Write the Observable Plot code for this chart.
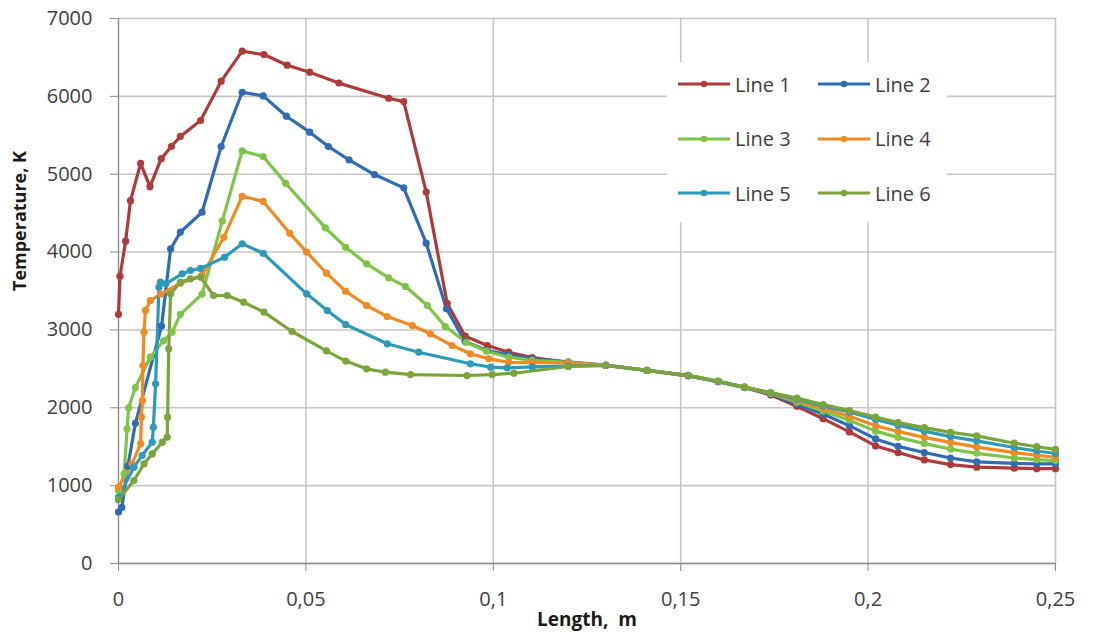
<!DOCTYPE html>
<html>
<head>
<meta charset="utf-8">
<script src="https://cdn.jsdelivr.net/npm/d3@7"></script>
<script src="https://cdn.jsdelivr.net/npm/@observablehq/plot@0.6"></script>
<style>
  html, body { margin: 0; padding: 0; background: #fff; }
  #wrap { position: relative; width: 1093px; height: 632px; font-family: "Open Sans", sans-serif; }
  #wrap svg.plot { position: absolute; left: 0; top: 0; }
  #legend { position: absolute; left: 667px; top: 62px; width: 280px; height: 160px; background: #fff; }
  .item { position: absolute; height: 24px; display: flex; align-items: center; color: #404040; font-size: 20px; }
</style>
</head>
<body>
<div id="wrap"><div id="legend"></div></div>
<script>
// ---- data ----
const seriesNames = ["Line 1", "Line 2", "Line 3", "Line 4", "Line 5", "Line 6"];
const seriesColors = ["#AF3A3B", "#2F6CB4", "#7EC446", "#F08A23", "#2C9AB8", "#7BA53B"];

const xTicks = [0, 0.05, 0.1, 0.15, 0.2, 0.25];
const yTicks = [0, 1000, 2000, 3000, 4000, 5000, 6000, 7000];

// shared x positions of the downstream part (x >= 0.12)
const tailX = [0.120, 0.130, 0.141, 0.152, 0.160, 0.167, 0.174, 0.181, 0.188, 0.195, 0.202, 0.208, 0.215, 0.222, 0.229, 0.239, 0.245, 0.250];

const line1X = [0, 0.0004, 0.0019, 0.0032, 0.0059, 0.0084, 0.0114, 0.0141, 0.0165, 0.0219, 0.0274, 0.0330, 0.0388, 0.0450, 0.0510, 0.0588, 0.0721, 0.0761, 0.0821, 0.0877, 0.0925, 0.0984, 0.1041, 0.1104];
const line1Y = [3200, 3690, 4140, 4660, 5140, 4840, 5200, 5356, 5485, 5690, 6195, 6580, 6537, 6400, 6310, 6170, 5976, 5933, 4770, 3340, 2920, 2800, 2714, 2646];
const line1Tail = [2585, 2543, 2479, 2410, 2335, 2260, 2165, 2020, 1860, 1690, 1510, 1425, 1330, 1270, 1237, 1225, 1218, 1218];

const line2X = [0, 0.0009, 0.0025, 0.0045, 0.0115, 0.0139, 0.0165, 0.0223, 0.0274, 0.0330, 0.0386, 0.0448, 0.0510, 0.0560, 0.0615, 0.0683, 0.0761, 0.0821, 0.0875, 0.0925, 0.0984, 0.1041, 0.1104];
const line2Y = [660, 720, 1250, 1800, 3050, 4040, 4255, 4512, 5356, 6053, 6006, 5745, 5540, 5356, 5185, 4996, 4825, 4114, 3271, 2850, 2736, 2680, 2630];
const line2Tail = [2590, 2548, 2480, 2410, 2336, 2262, 2175, 2045, 1920, 1770, 1600, 1505, 1425, 1355, 1305, 1285, 1280, 1280];

const line3X = [0, 0.0015, 0.0023, 0.0027, 0.0045, 0.0085, 0.0120, 0.0143, 0.0165, 0.0223, 0.0277, 0.0330, 0.0386, 0.0446, 0.0552, 0.0606, 0.0662, 0.0721, 0.0766, 0.0824, 0.0872, 0.0928, 0.0982, 0.1041, 0.1104];
const line3Y = [940, 1150, 1730, 2000, 2260, 2650, 2860, 2970, 3200, 3460, 4400, 5300, 5227, 4884, 4311, 4062, 3849, 3669, 3558, 3314, 3044, 2842, 2727, 2650, 2610];
const line3Tail = [2585, 2546, 2480, 2412, 2337, 2263, 2183, 2070, 1960, 1840, 1700, 1620, 1540, 1470, 1415, 1355, 1335, 1322];

const line4X = [0, 0.0036, 0.0059, 0.0061, 0.0064, 0.0065, 0.0068, 0.0072, 0.0085, 0.0113, 0.0165, 0.0223, 0.0281, 0.0330, 0.0386, 0.0457, 0.0502, 0.0555, 0.0606, 0.0662, 0.0717, 0.0784, 0.0832, 0.0890, 0.0939, 0.0988, 0.1041, 0.1104];
const line4Y = [980, 1280, 1537, 1880, 2093, 2543, 2971, 3250, 3378, 3460, 3600, 3700, 4190, 4717, 4650, 4242, 3999, 3729, 3497, 3314, 3172, 3057, 2950, 2800, 2693, 2629, 2585, 2580];
const line4Tail = [2575, 2545, 2480, 2414, 2338, 2264, 2187, 2090, 1995, 1890, 1770, 1695, 1620, 1555, 1495, 1425, 1390, 1365];

const line5X = [0, 0.0041, 0.0063, 0.0090, 0.0093, 0.0099, 0.0108, 0.0112, 0.0126, 0.0170, 0.0192, 0.0219, 0.0283, 0.0330, 0.0386, 0.0502, 0.0557, 0.0606, 0.0717, 0.0801, 0.0939, 0.0993, 0.1037, 0.1104];
const line5Y = [852, 1237, 1387, 1558, 1751, 2308, 3549, 3613, 3592, 3721, 3763, 3790, 3934, 4106, 3985, 3464, 3249, 3070, 2822, 2714, 2565, 2522, 2513, 2525];
const line5Tail = [2535, 2545, 2481, 2416, 2340, 2265, 2192, 2110, 2025, 1945, 1850, 1775, 1700, 1630, 1575, 1490, 1445, 1413];

const line6X = [0, 0.0041, 0.0068, 0.0090, 0.0117, 0.0130, 0.0131, 0.0134, 0.0139, 0.0165, 0.0192, 0.0219, 0.0254, 0.0290, 0.0334, 0.0388, 0.0463, 0.0555, 0.0606, 0.0662, 0.0712, 0.0779, 0.0930, 0.0997, 0.1055];
const line6Y = [820, 1066, 1280, 1408, 1558, 1622, 1879, 2757, 3464, 3613, 3656, 3677, 3442, 3442, 3356, 3228, 2980, 2730, 2600, 2500, 2457, 2427, 2415, 2427, 2444];
const line6Tail = [2530, 2545, 2482, 2418, 2342, 2267, 2195, 2125, 2040, 1965, 1880, 1810, 1745, 1685, 1640, 1545, 1500, 1465];

// ---- build table ----
const heads = [[line1X, line1Y, line1Tail], [line2X, line2Y, line2Tail], [line3X, line3Y, line3Tail],
               [line4X, line4Y, line4Tail], [line5X, line5Y, line5Tail], [line6X, line6Y, line6Tail]];
const rows = [];
heads.forEach(([xs, ys, tail], i) => {
  xs.forEach((x, j) => rows.push({series: seriesNames[i], x, y: ys[j]}));
  tailX.forEach((x, j) => rows.push({series: seriesNames[i], x, y: tail[j]}));
});

const fmt = d => String(d).replace(".", ",");
const axisGray = "#8c8c8c";
const gridGray = "#c6c6c6";

const chart = Plot.plot({
  width: 1093,
  height: 632,
  marginLeft: 118,
  marginRight: 38,
  marginTop: 18,
  marginBottom: 69,
  style: {fontFamily: "'Open Sans', sans-serif", fontSize: "20px", color: "#404040", background: "transparent"},
  x: {domain: [0, 0.25], label: null},
  y: {domain: [0, 7000], label: null},
  color: {domain: seriesNames, range: seriesColors},
  marks: [
    Plot.gridY(yTicks, {stroke: gridGray, strokeOpacity: 1, strokeWidth: 1.6}),
    Plot.gridX(xTicks.slice(1), {stroke: gridGray, strokeOpacity: 1, strokeWidth: 1.6}),
    Plot.ruleX([0], {stroke: axisGray, strokeWidth: 1.4}),
    Plot.ruleY([0], {stroke: axisGray, strokeWidth: 1.4}),
    Plot.axisY(yTicks, {tickSize: 8, tickPadding: 18, stroke: axisGray, fill: "#404040", fontSize: 20, tickFormat: d => String(d), label: null}),
    Plot.axisX(xTicks, {tickSize: 8, tickPadding: 20, stroke: axisGray, fill: "#404040", fontSize: 20, tickFormat: fmt, label: null}),
    ...seriesNames.map(name => Plot.line(rows.filter(d => d.series === name), {x: "x", y: "y", stroke: "series", strokeWidth: 3.2, strokeLinejoin: "round"})),
    ...seriesNames.map(name => Plot.dot(rows.filter(d => d.series === name), {x: "x", y: "y", fill: "series", r: 3.6})),
    Plot.text(["Length,  m"], {frameAnchor: "bottom", dy: 62, lineAnchor: "bottom", fontWeight: "bold", fontSize: 19, fill: "#1a1a1a"}),
    Plot.text(["Temperature, K"], {frameAnchor: "left", dx: -98, rotate: -90, fontWeight: "bold", fontSize: 18, fill: "#1a1a1a"})
  ]
});
chart.classList.add("plot");
const wrap = document.getElementById("wrap");
wrap.insertBefore(chart, wrap.firstChild);

// ---- legend ----
const legend = document.getElementById("legend");
seriesNames.forEach((name, i) => {
  const col = i % 2, row = Math.floor(i / 2);
  const item = document.createElement("div");
  item.className = "item";
  item.style.left = (10 + col * 140) + "px";
  item.style.top = (22 - 12 + row * 54.5) + "px";
  const ns = "http://www.w3.org/2000/svg";
  const s = document.createElementNS(ns, "svg");
  s.setAttribute("width", 56); s.setAttribute("height", 24);
  const l = document.createElementNS(ns, "line");
  l.setAttribute("x1", 1); l.setAttribute("x2", 53); l.setAttribute("y1", 12); l.setAttribute("y2", 12);
  l.setAttribute("stroke", seriesColors[i]); l.setAttribute("stroke-width", 3.2);
  const c = document.createElementNS(ns, "circle");
  c.setAttribute("cx", 27); c.setAttribute("cy", 12); c.setAttribute("r", 3.2); c.setAttribute("fill", seriesColors[i]);
  s.appendChild(l); s.appendChild(c);
  const t = document.createElement("span");
  t.textContent = name;
  t.style.marginLeft = "2px";
  item.appendChild(s); item.appendChild(t);
  legend.appendChild(item);
});
</script>
</body>
</html>
